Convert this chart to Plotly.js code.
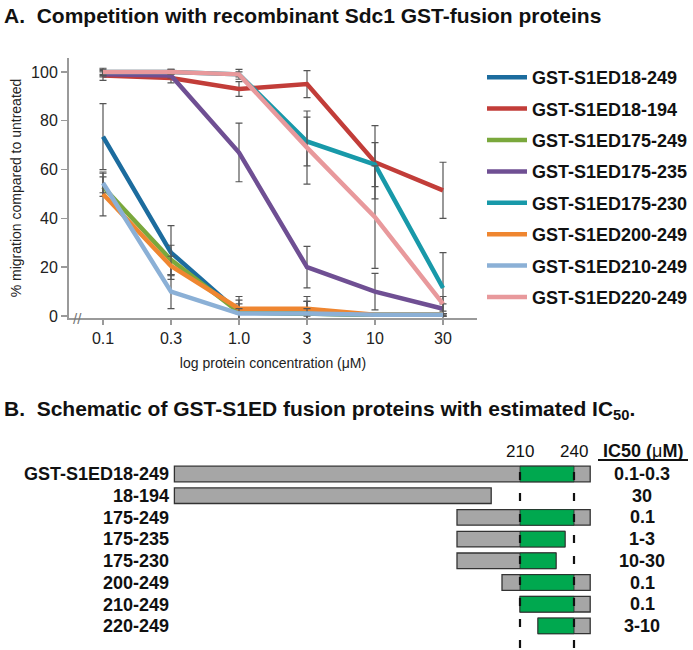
<!DOCTYPE html>
<html>
<head>
<meta charset="utf-8">
<script src="https://cdn.plot.ly/plotly-3.0.1.min.js"></script>
<style>
  body { margin: 0; background: #fff; }
  #chart { width: 693px; height: 650px; }
</style>
</head>
<body>
<div id="chart"></div>
<script>
// Panel A: migration vs protein concentration
const concLabels = ['0.1', '0.3', '1.0', '3', '10', '30'];
const seriesNames = ['GST-S1ED18-249', 'GST-S1ED18-194', 'GST-S1ED175-249', 'GST-S1ED175-235',
                     'GST-S1ED175-230', 'GST-S1ED200-249', 'GST-S1ED210-249', 'GST-S1ED220-249'];
const seriesColors = ['#1c6c9e', '#c23d39', '#7aa83c', '#6f4f93', '#1899a9', '#ef8630', '#8bb0d6', '#e8999c'];

const mig18_249  = [73.5, 26, 1.5, 1, 0.5, 0.5];
const mig18_194  = [98.5, 97.5, 93, 95, 63, 51.5];
const mig175_249 = [53, 23, 1.5, 1, 0.5, 0.5];
const mig175_235 = [99, 98.5, 67, 20, 10, 3];
const mig175_230 = [100, 100, 99, 71.5, 62, 11.5];
const mig200_249 = [50, 20.5, 3, 3, 0.5, 0.5];
const mig210_249 = [54.5, 10, 1, 1, 0.5, 0.5];
const mig220_249 = [100, 100, 99, 69, 40.5, 5];

const err18_249  = [13.5, 11, 6.5, 7, 0.5, 0.5];
const err18_194  = [2, 2, 3, 5.5, 15, 11.5];
const err175_249 = [4, 6, 5, 5, 0.5, 0.5];
const err175_235 = [1, 1, 12, 8.5, 7.5, 2];
const err175_230 = [1, 1, 2, 10, 9, 14.5];
const err200_249 = [9, 4, 2, 3, 0.5, 0.5];
const err210_249 = [4, 7, 2, 2, 0.5, 0.5];
const err220_249 = [1.5, 1, 1, 15, 21, 3];

const allMig = [mig18_249, mig18_194, mig175_249, mig175_235, mig175_230, mig200_249, mig210_249, mig220_249];
const allErr = [err18_249, err18_194, err175_249, err175_235, err175_230, err200_249, err210_249, err220_249];

// Panel B: schematic of fusion proteins
const rowLabels = ['GST-S1ED18-249', '18-194', '175-249', '175-235', '175-230', '200-249', '210-249', '220-249'];
const resStart  = [18, 18, 175, 175, 175, 200, 210, 220];
const resEnd    = [249, 194, 249, 235, 230, 249, 249, 249];
const ic50Text  = ['0.1-0.3', '30', '0.1', '1-3', '10-30', '0.1', '0.1', '3-10'];
const motifRange = [210, 240];

const FONT = 'Liberation Sans, Arial, sans-serif';
const xIdx = concLabels.map((_, i) => i);

const traces = [];
seriesNames.forEach((name, k) => {
  traces.push({
    x: xIdx, y: allMig[k], name: name, legendgroup: 'g' + k,
    type: 'scatter', mode: 'lines', xaxis: 'x', yaxis: 'y',
    line: {color: seriesColors[k], width: 4.5},
    error_y: {type: 'data', array: allErr[k], visible: true, color: '#555', thickness: 1.2, width: 3.5}
  });
});

// grey full-length bars
traces.push({
  type: 'bar', orientation: 'h', xaxis: 'x2', yaxis: 'y2', showlegend: false,
  y: rowLabels, base: resStart, x: resEnd.map((e, i) => e - resStart[i]),
  width: 0.72, marker: {color: '#a6a6a6', line: {color: '#333', width: 1.3}}
});

// green region 210-240 where present
const gRows = [], gBase = [], gLen = [];
rowLabels.forEach((r, i) => {
  const b = Math.max(resStart[i], motifRange[0]);
  const e = Math.min(resEnd[i], motifRange[1]);
  if (e > b) { gRows.push(r); gBase.push(b); gLen.push(e - b); }
});
traces.push({
  type: 'bar', orientation: 'h', xaxis: 'x2', yaxis: 'y2', showlegend: false,
  y: gRows, base: gBase, x: gLen,
  width: 0.72, marker: {color: '#00a84f', line: {color: '#2a2a2a', width: 0.8}}
});

const annotations = [
  {xref: 'paper', yref: 'paper', x: 0.003, y: 1 - 16 / 650, xanchor: 'left', yanchor: 'middle', showarrow: false,
   text: '<b>A.\u00a0\u00a0Competition with recombinant Sdc1 GST-fusion proteins</b>',
   font: {family: FONT, size: 21, color: '#111'}},
  {xref: 'paper', yref: 'paper', x: 0.003, y: 1 - 410 / 650, xanchor: 'left', yanchor: 'middle', showarrow: false,
   text: '<b>B.\u00a0\u00a0Schematic of GST-S1ED fusion proteins with estimated IC<sub>50</sub>.</b>',
   font: {family: FONT, size: 21, color: '#111'}},
  {xref: 'paper', yref: 'paper', x: 77 / 693, y: 1 - 318 / 650, xanchor: 'center', yanchor: 'middle', showarrow: false,
   text: '//', font: {family: FONT, size: 15, color: '#777'}},
  {xref: 'paper', yref: 'paper', x: 643 / 693, y: 1 - 451 / 650, xanchor: 'center', yanchor: 'middle', showarrow: false,
   text: '<b>IC50 (</b>\u03bc<b>M)</b>', font: {family: FONT, size: 18, color: '#111'}}
];
motifRange.forEach(v => annotations.push({
  xref: 'x2', yref: 'paper', x: v, y: 1 - 451 / 650, xanchor: 'center', yanchor: 'middle', showarrow: false,
  text: String(v), font: {family: FONT, size: 17, color: '#111'}
}));
rowLabels.forEach((r, i) => annotations.push({
  xref: 'paper', yref: 'y2', x: 642 / 693, y: r, xanchor: 'center', yanchor: 'middle', showarrow: false,
  text: '<b>' + ic50Text[i] + '</b>', font: {family: FONT, size: 18, color: '#111'}
}));

const shapes = motifRange.map(v => ({
  type: 'line', xref: 'x2', yref: 'paper', x0: v, x1: v, y0: 0.003, y1: 1 - 461 / 650,
  layer: 'above', line: {color: '#111', width: 2.2, dash: '8px,13px'}
}));
shapes.push({type: 'line', xref: 'paper', yref: 'paper', x0: 598 / 693, x1: 688 / 693,
  y0: 1 - 460 / 650, y1: 1 - 460 / 650, line: {color: '#111', width: 2}});

const layout = {
  width: 693, height: 650,
  margin: {l: 0, r: 0, t: 0, b: 0},
  paper_bgcolor: '#fff', plot_bgcolor: 'rgba(0,0,0,0)',
  barmode: 'overlay',
  font: {family: FONT, color: '#222'},
  xaxis: {
    domain: [69 / 693, 477 / 693], range: [-0.5, 5.5], anchor: 'y',
    tickvals: xIdx, ticktext: concLabels,
    showline: true, linecolor: '#9a9a9a', linewidth: 2,
    ticks: 'outside', ticklen: 5, tickcolor: '#9a9a9a', tickwidth: 1.5,
    showgrid: false, zeroline: false,
    tickfont: {family: FONT, size: 16, color: '#222'},
    title: {text: 'log protein concentration (\u03bcM)', font: {family: FONT, size: 14, color: '#222'}, standoff: 12}
  },
  yaxis: {
    domain: [1 - 318 / 650, 1 - 58 / 650], range: [-0.8, 105.7], anchor: 'x',
    tickvals: [0, 20, 40, 60, 80, 100],
    showline: true, linecolor: '#9a9a9a', linewidth: 2,
    ticks: 'outside', ticklen: 6, tickcolor: '#9a9a9a', tickwidth: 1.5,
    showgrid: false, zeroline: false,
    tickfont: {family: FONT, size: 16, color: '#222'},
    title: {text: '% migration compared to untreated', font: {family: FONT, size: 14, color: '#222'}, standoff: 6}
  },
  xaxis2: {
    domain: [0, 1], range: [-142 / 1.8, (693 - 142) / 1.8], anchor: 'y2', visible: false
  },
  yaxis2: {
    domain: [2 / 650, 1 - 452 / 650], range: [8.018, -1.014],
    type: 'category', categoryorder: 'array', categoryarray: rowLabels,
    tickmode: 'array', tickvals: rowLabels, ticktext: rowLabels,
    anchor: 'free', position: 175 / 693,
    showline: false, showgrid: false, zeroline: false, ticks: '',
    ticklabelstandoff: 6,
    tickfont: {family: FONT, size: 18, color: '#111', weight: 'bold'}
  },
  legend: {
    x: 482 / 693, y: 1 - 59 / 650, xanchor: 'left', yanchor: 'top',
    bgcolor: 'rgba(0,0,0,0)', tracegroupgap: 5, itemwidth: 40,
    font: {family: FONT, size: 18, color: '#111', weight: 'bold'}
  },
  annotations: annotations,
  shapes: shapes
};

Plotly.newPlot('chart', traces, layout, {displayModeBar: false, staticPlot: true});
</script>
</body>
</html>
